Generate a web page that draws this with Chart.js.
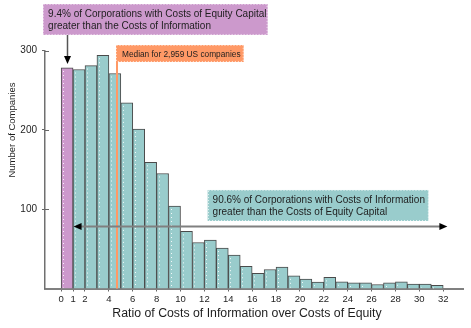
<!DOCTYPE html>
<html><head><meta charset="utf-8">
<script src="https://cdn.jsdelivr.net/npm/chart.js@4"></script>
<style>html,body{margin:0;padding:0;background:#fff}#c{display:block}</style>
</head><body>
<canvas id="c" width="471" height="328"></canvas>
<script>
// ---- data ----
const binStarts = [0,1,2,3,4,5,6,7,8,9,10,11,12,13,14,15,16,17,18,19,20,21,22,23,24,25,26,27,28,29,30,31];
const companies = [278,276,281,294,271,234,201,159,145,104,72,58,61,51,42,28,19,24,27,16,12,8,14,8.5,7,7,5,7,8.5,5.5,5.5,4];
const xTickValues = [0,1,2,4,6,8,10,12,14,16,18,20,22,24,26,28,30,32];
const yTickValues = [100,200,300];
const medianRatio = 4.68;
const leftShareLabel = ["9.4% of Corporations with Costs of Equity Capital", "greater than the Costs of Information"];
const rightShareLabel = ["90.6% of Corporations with Costs of Information", "greater than the Costs of Equity Capital"];
const medianLabel = "Median for 2,959 US companies";
const xTitle = "Ratio of Costs of Information over Costs of Equity";
const yTitle = "Number of Companies";

// ---- styling ----
const TEAL = '#99cccc', PURPLE = '#cc99cc', ORANGE = '#ff9966';
const FONT = '"Liberation Sans", Arial, sans-serif';
const TXT = '#1e1e1e';

const points = binStarts.map((s, i) => ({x: s + 0.5, y: companies[i]}));
const colors = binStarts.map(s => s < 1 ? PURPLE : TEAL);

function arrowHead(ctx, tx, ty, dir, len, half) {
  ctx.beginPath();
  if (dir === 'down') { ctx.moveTo(tx, ty); ctx.lineTo(tx - half, ty - len); ctx.lineTo(tx + half, ty - len); }
  if (dir === 'left') { ctx.moveTo(tx, ty); ctx.lineTo(tx + len, ty - half); ctx.lineTo(tx + len, ty + half); }
  if (dir === 'right') { ctx.moveTo(tx, ty); ctx.lineTo(tx - len, ty - half); ctx.lineTo(tx - len, ty + half); }
  ctx.closePath(); ctx.fillStyle = '#000'; ctx.fill();
}
function box(ctx, x0, y0, x1, y1, fill) {
  ctx.fillStyle = fill; ctx.fillRect(x0, y0, x1 - x0, y1 - y0);
  ctx.save(); ctx.setLineDash([1, 2]); ctx.strokeStyle = 'rgba(255,255,255,0.75)'; ctx.lineWidth = 1;
  ctx.strokeRect(Math.round(x0) + 0.5, Math.round(y0) + 0.5, x1 - x0 - 1, y1 - y0 - 1); ctx.restore();
}

const annotations = {
  id: 'annotations',
  afterDatasetsDraw(chart) {
    const ctx = chart.ctx, xs = chart.scales.x, ys = chart.scales.y;
    const X = v => xs.getPixelForValue(v), Y = v => ys.getPixelForValue(v);
    ctx.save();
    // dotted texture inside bars
    const meta = chart.getDatasetMeta(0);
    ctx.save(); ctx.setLineDash([1, 3]); ctx.strokeStyle = 'rgba(255,255,255,0.9)'; ctx.lineWidth = 1;
    meta.data.forEach(b => {
      const lx = Math.round(b.x - b.width / 2) + 2.5;
      ctx.beginPath(); ctx.moveTo(lx, b.y + 3); ctx.lineTo(lx, b.base - 1); ctx.stroke();
    });
    ctx.restore();

    // median line
    ctx.strokeStyle = ORANGE; ctx.lineWidth = 2;
    ctx.beginPath(); ctx.moveTo(X(medianRatio), Y(306.9)); ctx.lineTo(X(medianRatio), Y(0)); ctx.stroke();

    // horizontal double arrow
    const ay = Math.round(Y(78.8)) + 0.5;
    ctx.strokeStyle = '#808080'; ctx.lineWidth = 2;
    ctx.beginPath(); ctx.moveTo(X(1) + 4, ay); ctx.lineTo(X(32.35) - 4, ay); ctx.stroke();
    arrowHead(ctx, X(1) + 0.5, ay, 'left', 8, 3.5);
    arrowHead(ctx, X(32.35), ay, 'right', 8, 3.5);

    // vertical arrow from left box
    const vx = Math.round(X(0.5)) + 0.5;
    ctx.strokeStyle = '#555'; ctx.lineWidth = 1.5;
    ctx.beginPath(); ctx.moveTo(vx, Y(319.6)); ctx.lineTo(vx, Y(283) - 5); ctx.stroke();
    arrowHead(ctx, vx, Y(283), 'down', 8, 3.5);

    ctx.font = '10px ' + FONT; ctx.fillStyle = TXT; ctx.textBaseline = 'middle'; ctx.textAlign = 'left';
    // left (purple) box
    let x0 = X(-1.51), y0 = Y(358.6);
    box(ctx, x0, y0, X(17.3), Y(319.6), PURPLE);
    ctx.fillStyle = TXT;
    ctx.fillText(leftShareLabel[0], x0 + 5, y0 + 10);
    ctx.fillText(leftShareLabel[1], x0 + 5, y0 + 22);
    // median box
    x0 = X(medianRatio) - 1; y0 = Y(306.9);
    box(ctx, x0, y0, X(15.29), Y(285.5), ORANGE);
    ctx.fillStyle = TXT; ctx.font = '8.3px ' + FONT;
    ctx.fillText(medianLabel, x0 + 6, y0 + 9.5);
    ctx.font = '10px ' + FONT;
    // right (teal) box
    x0 = X(12.27); y0 = Y(124.2);
    box(ctx, x0, y0, X(30.76), Y(85.1), TEAL);
    ctx.fillStyle = TXT;
    ctx.fillText(rightShareLabel[0], x0 + 5, y0 + 10);
    ctx.fillText(rightShareLabel[1], x0 + 5, y0 + 22);

    // axis titles
    ctx.font = '12.3px ' + FONT; ctx.textAlign = 'center';
    ctx.fillText(xTitle, 247, 314);
    ctx.save(); ctx.translate(12, 130); ctx.rotate(-Math.PI / 2);
    ctx.font = '9.5px ' + FONT; ctx.fillText(yTitle, 0, 0); ctx.restore();

    // inner half of y ticks (crossing the axis)
    ctx.strokeStyle = '#666'; ctx.lineWidth = 1;
    yTickValues.forEach(v => { const py = Math.round(Y(v)) + 0.5; ctx.beginPath(); ctx.moveTo(xs.left, py); ctx.lineTo(xs.left + 4, py); ctx.stroke(); });
    ctx.restore();
  }
};

new Chart(document.getElementById('c'), {
  type: 'bar',
  data: { datasets: [{ data: points, backgroundColor: colors, borderColor: '#4a4a4a', borderWidth: 1,
    barPercentage: 1, categoryPercentage: 1, borderSkipped: 'bottom' }] },
  options: {
    responsive: false, animation: false, devicePixelRatio: 1,
    layout: { padding: { left: 0, right: 7.5, top: 50.5, bottom: 0 } },
    plugins: { legend: { display: false }, tooltip: { enabled: false } },
    scales: {
      x: { type: 'linear', min: -1.35, max: 33.7, offset: false,
        afterBuildTicks: s => { s.ticks = xTickValues.map(v => ({ value: v })); },
        afterFit: s => { s.height = 39.5; },
        grid: { drawOnChartArea: false, drawTicks: true, tickLength: 3, color: '#666', offset: false },
        border: { color: '#808080', width: 2 },
        ticks: { font: { family: FONT, size: 9.5 }, color: TXT, padding: 2, maxRotation: 0, autoSkip: false } },
      y: { min: 0, max: 300,
        afterBuildTicks: s => { s.ticks = yTickValues.map(v => ({ value: v })); },
        afterFit: s => { s.width = 45; },
        grid: { drawOnChartArea: false, drawTicks: true, tickLength: 3, color: '#666' },
        border: { color: '#707070', width: 1.5 },
        ticks: { font: { family: FONT, size: 10 }, color: TXT, padding: 5 } }
    }
  },
  plugins: [annotations]
});
</script>
</body></html>
